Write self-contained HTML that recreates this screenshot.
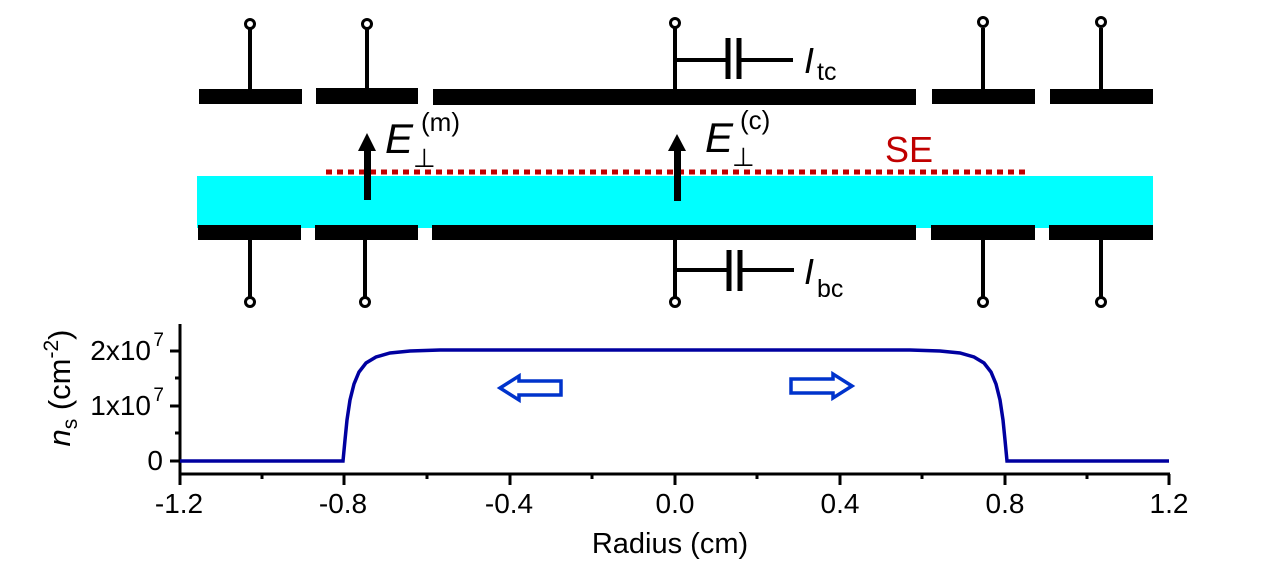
<!DOCTYPE html>
<html><head><meta charset="utf-8"><style>
html,body{margin:0;padding:0;background:#fff;}
svg{display:block;font-family:"Liberation Sans",sans-serif;}
</style></head><body>
<svg width="1269" height="572" viewBox="0 0 1269 572" xmlns="http://www.w3.org/2000/svg">
<rect x="197" y="176" width="956" height="52" fill="#00ffff"/>
<g fill="#000">
<rect x="199" y="89" width="103" height="15"/>
<rect x="316" y="88" width="102" height="16"/>
<rect x="433" y="89" width="483" height="16"/>
<rect x="932" y="89" width="103" height="15"/>
<rect x="1050" y="89" width="103" height="15"/>
<rect x="198" y="225" width="103" height="15"/>
<rect x="315" y="225" width="103" height="15"/>
<rect x="432" y="225" width="484" height="15"/>
<rect x="931" y="225" width="104" height="15"/>
<rect x="1049" y="225" width="104" height="15"/>
</g>
<g stroke="#000" stroke-width="4" fill="#fff">
<line x1="250" y1="28" x2="250" y2="89"/><circle cx="250" cy="24" r="4.5" stroke-width="3"/>
<line x1="367" y1="28" x2="367" y2="89"/><circle cx="367" cy="24" r="4.5" stroke-width="3"/>
<line x1="675" y1="28" x2="675" y2="89"/><circle cx="675" cy="23" r="4.5" stroke-width="3"/>
<line x1="983" y1="28" x2="983" y2="89"/><circle cx="983" cy="22" r="4.5" stroke-width="3"/>
<line x1="1101" y1="28" x2="1101" y2="89"/><circle cx="1101" cy="22" r="4.5" stroke-width="3"/>
<line x1="250" y1="240" x2="250" y2="298"/><circle cx="250" cy="302" r="4.5" stroke-width="3"/>
<line x1="365" y1="240" x2="365" y2="298"/><circle cx="365" cy="302" r="4.5" stroke-width="3"/>
<line x1="675" y1="240" x2="675" y2="298"/><circle cx="675" cy="302" r="4.5" stroke-width="3"/>
<line x1="983" y1="240" x2="983" y2="298"/><circle cx="983" cy="302" r="4.5" stroke-width="3"/>
<line x1="1101" y1="240" x2="1101" y2="298"/><circle cx="1101" cy="302" r="4.5" stroke-width="3"/>
<line x1="675" y1="60" x2="728" y2="60"/>
<line x1="728" y1="38" x2="728" y2="79" stroke-width="5"/>
<line x1="739" y1="38" x2="739" y2="79" stroke-width="5"/>
<line x1="739" y1="60" x2="793" y2="60"/>
<line x1="675" y1="270" x2="728" y2="270"/>
<line x1="729" y1="250" x2="729" y2="291" stroke-width="5"/>
<line x1="740" y1="250" x2="740" y2="291" stroke-width="5"/>
<line x1="740" y1="270" x2="794" y2="270"/>
</g>
<text x="804" y="73" font-size="36" font-style="italic">I</text>
<text x="817" y="80" font-size="25">tc</text>
<text x="804" y="284" font-size="36" font-style="italic">I</text>
<text x="817" y="297" font-size="25">bc</text>
<line x1="326" y1="172" x2="1027" y2="172" stroke="#c00000" stroke-width="5" stroke-dasharray="6,5"/>
<text x="885" y="162" font-size="36" fill="#c00000">SE</text>
<g fill="#000">
<rect x="364" y="150" width="7" height="50"/>
<polygon points="358,151 376,151 367,133"/>
<rect x="674" y="150" width="7" height="51"/>
<polygon points="668,151 686,151 677,134"/>
</g>
<text x="385" y="153" font-size="42" font-style="italic">E</text>
<text x="413" y="167" font-size="26">⊥</text>
<text x="421" y="131" font-size="26">(m)</text>
<text x="705" y="152" font-size="42" font-style="italic">E</text>
<text x="732" y="166" font-size="26">⊥</text>
<text x="740" y="129" font-size="26">(c)</text>
<g stroke="#000" stroke-width="3" fill="none">
<line x1="180" y1="324" x2="180" y2="475"/>
<line x1="179" y1="474" x2="1170" y2="474"/>
<line x1="180" y1="351" x2="170" y2="351"/>
<line x1="180" y1="406" x2="170" y2="406"/>
<line x1="180" y1="461" x2="170" y2="461"/>
<line x1="180" y1="378" x2="175" y2="378"/>
<line x1="180" y1="433" x2="175" y2="433"/>
<line x1="180" y1="474" x2="180" y2="485"/>
<line x1="344" y1="474" x2="344" y2="485"/>
<line x1="510" y1="474" x2="510" y2="485"/>
<line x1="675" y1="474" x2="675" y2="485"/>
<line x1="840" y1="474" x2="840" y2="485"/>
<line x1="1005" y1="474" x2="1005" y2="485"/>
<line x1="1169" y1="474" x2="1169" y2="485"/>
<line x1="262" y1="474" x2="262" y2="479"/>
<line x1="427" y1="474" x2="427" y2="479"/>
<line x1="592" y1="474" x2="592" y2="479"/>
<line x1="757" y1="474" x2="757" y2="479"/>
<line x1="922" y1="474" x2="922" y2="479"/>
<line x1="1087" y1="474" x2="1087" y2="479"/>
</g>
<g font-size="28" text-anchor="middle">
<text x="179" y="513">-1.2</text>
<text x="343" y="513">-0.8</text>
<text x="509" y="513">-0.4</text>
<text x="675" y="513">0.0</text>
<text x="840" y="513">0.4</text>
<text x="1005" y="513">0.8</text>
<text x="1169" y="513">1.2</text>
</g>
<text x="670" y="553" font-size="29" text-anchor="middle">Radius (cm)</text>
<g font-size="28" text-anchor="end">
<text x="163" y="470">0</text>
<text x="151" y="415">1x10</text><text x="164" y="401" font-size="19">7</text>
<text x="151" y="360">2x10</text><text x="164" y="346" font-size="19">7</text>
</g>
<text transform="translate(70,388) rotate(-90)" font-size="31" text-anchor="middle"><tspan font-style="italic">n</tspan><tspan font-size="21" dy="7">s</tspan><tspan dy="-7"> (cm</tspan><tspan font-size="21" dy="-12">-2</tspan><tspan dy="12">)</tspan></text>
<path d="M180,461 L343,461 L345,440 L347,420 L350,400 L354,384 L359,372 L366,363 L376,357 L390,353 L410,351 L440,350 L910,350 L940,351 L960,353 L974,357 L984,363 L991,372 L996,384 L1000,400 L1003,420 L1005,440 L1007,461 L1169,461" fill="none" stroke="#0000a0" stroke-width="3.5"/>
<polygon points="500,388 519,376 519,381 561,381 561,395 519,395 519,400" fill="none" stroke="#0033cc" stroke-width="3.5"/>
<polygon points="852,386 833,374 833,379 791,379 791,393 833,393 833,398" fill="none" stroke="#0033cc" stroke-width="3.5"/>
</svg>
</body></html>
